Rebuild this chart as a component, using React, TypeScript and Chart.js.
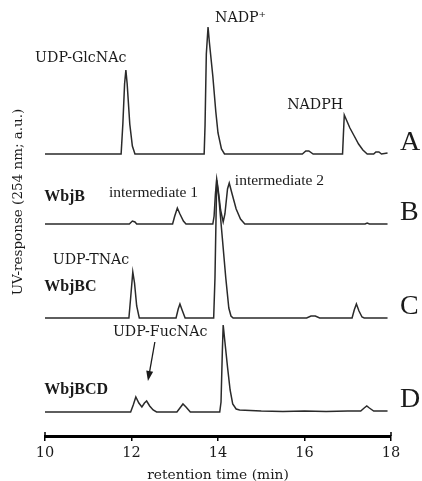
import React, { useEffect, useRef } from "react";
import { Chart, registerables } from "chart.js";

Chart.register(...registerables);

// Retention time axis (min)
const timeTicks = [10, 12, 14, 16, 18];

// Chromatogram traces: [retention time (min), UV response (a.u.)]
const traceA: [number, number][] = [
  [10.0, 0], [11.76, 0], [11.8, 30], [11.84, 70], [11.87, 84], [11.9, 70], [11.96, 30], [12.02, 8], [12.08, 0],
  [13.68, 0], [13.7, 28], [13.73, 100], [13.77, 127], [13.8, 112], [13.88, 78], [13.95, 42], [14.0, 21], [14.08, 5], [14.15, 0],
  [15.95, 0], [16.03, 3], [16.1, 3], [16.2, 0],
  [16.88, 0], [16.9, 20], [16.92, 39], [16.98, 33], [17.05, 26], [17.15, 18], [17.25, 10], [17.35, 4], [17.45, 0],
  [17.6, 0], [17.65, 2], [17.72, 2], [17.78, 0], [17.92, 1],
];

const traceB: [number, number][] = [
  [10.0, 0], [11.95, 0], [12.02, 3], [12.08, 2], [12.12, 0],
  [12.95, 0], [13.0, 8], [13.06, 16], [13.12, 10], [13.2, 3], [13.26, 0],
  [13.88, 0], [13.91, 8], [13.94, 30], [13.97, 45], [14.0, 36], [14.06, 14], [14.12, 2],
  [14.16, 10], [14.22, 35], [14.26, 41], [14.32, 31], [14.42, 15], [14.52, 5], [14.62, 0],
  [17.4, 0], [17.45, 1], [17.5, 0], [17.92, 0],
];

const traceC: [number, number][] = [
  [10.0, 0], [11.94, 0], [11.98, 20], [12.03, 46], [12.07, 35], [12.12, 12], [12.18, 0],
  [13.03, 0], [13.08, 9], [13.12, 14], [13.17, 8], [13.24, 0],
  [13.9, 0], [13.93, 40], [13.97, 138], [14.02, 120], [14.1, 80], [14.18, 40], [14.25, 10], [14.3, 2], [14.35, 0],
  [16.05, 0], [16.15, 2], [16.25, 2], [16.35, 0],
  [17.1, 0], [17.15, 8], [17.2, 14], [17.26, 7], [17.33, 1], [17.38, 0], [17.92, 0],
];

const traceD: [number, number][] = [
  [10.0, 0], [11.98, 0], [12.04, 7], [12.1, 15], [12.17, 9], [12.24, 5], [12.3, 9], [12.35, 11], [12.42, 6], [12.5, 2], [12.58, 0],
  [13.05, 0], [13.12, 4], [13.19, 8], [13.26, 5], [13.36, 0],
  [14.04, 0], [14.07, 10], [14.1, 60], [14.12, 87], [14.16, 70], [14.22, 45], [14.28, 22], [14.34, 8], [14.42, 3], [14.5, 2],
  [15.0, 1], [15.5, 0.5], [16.0, 1], [16.5, 0.5], [17.0, 1],
  [17.3, 1], [17.38, 4], [17.44, 6], [17.5, 4], [17.6, 1], [17.92, 1],
];

const traces = [traceA, traceB, traceC, traceD];
const traceNames = ["A", "B", "C", "D"];
// Vertical stacking offset of each trace's baseline
const traceOffsets = [282, 212, 118, 24];

// Annotation texts anchored at [time, response]
const peakLabels: { text: string; at: [number, number] }[] = [
  { text: "UDP-GlcNAc", at: [9.77, 378] },
  { text: "NADP\u207A", at: [13.93, 418] },
  { text: "NADPH", at: [15.6, 331] },
  { text: "UDP-TNAc", at: [10.18, 176] },
  { text: "UDP-FucNAc", at: [11.57, 104] },
];
const intermediateLabels: { text: string; at: [number, number] }[] = [
  { text: "intermediate 1", at: [11.48, 243] },
  { text: "intermediate 2", at: [14.39, 255] },
];
const enzymeLabels: { text: string; at: [number, number] }[] = [
  { text: "WbjB", at: [9.98, 239] },
  { text: "WbjBC", at: [9.98, 149] },
  { text: "WbjBCD", at: [9.98, 46] },
];
const traceLetterPos: [number, number][] = [
  [18.21, 293], [18.21, 223], [18.21, 129], [18.21, 36],
];
const arrowFromTo: [[number, number], [number, number]] = [[12.54, 94], [12.38, 55]];

const yTitle = "UV-response (254 nm; a.u.)";
const xTitle = "retention time (min)";

const SERIF = "'DejaVu Serif', serif";
const TIMES = "'Liberation Serif', 'Times New Roman', serif";

const annotationPlugin = {
  id: "chromAnnotations",
  afterDraw(chart: any) {
    const { ctx, scales, chartArea } = chart;
    const xs = scales.x;
    const ys = scales.y;
    const px = (t: number) => xs.getPixelForValue(t);
    const py = (v: number) => ys.getPixelForValue(v);
    ctx.save();
    ctx.fillStyle = "#1a1a1a";
    ctx.textBaseline = "middle";
    ctx.textAlign = "left";

    ctx.font = `14.2px ${SERIF}`;
    peakLabels.forEach((l) => ctx.fillText(l.text, px(l.at[0]), py(l.at[1])));

    ctx.font = `15.5px ${TIMES}`;
    intermediateLabels.forEach((l) => ctx.fillText(l.text, px(l.at[0]), py(l.at[1])));

    ctx.font = `bold 16px ${TIMES}`;
    enzymeLabels.forEach((l) => ctx.fillText(l.text, px(l.at[0]), py(l.at[1])));

    ctx.font = `28px ${TIMES}`;
    traceNames.forEach((n, i) => ctx.fillText(n, px(traceLetterPos[i][0]), py(traceLetterPos[i][1])));

    // arrow pointing to UDP-FucNAc
    const [a, b] = arrowFromTo;
    const x0 = px(a[0]), y0 = py(a[1]), x1 = px(b[0]), y1 = py(b[1]);
    const ang = Math.atan2(y1 - y0, x1 - x0);
    ctx.strokeStyle = "#1a1a1a";
    ctx.lineWidth = 1.3;
    ctx.beginPath();
    ctx.moveTo(x0, y0);
    ctx.lineTo(x1 - 6 * Math.cos(ang), y1 - 6 * Math.sin(ang));
    ctx.stroke();
    ctx.beginPath();
    ctx.moveTo(x1, y1);
    ctx.lineTo(x1 - 10 * Math.cos(ang) + 3.5 * Math.sin(ang), y1 - 10 * Math.sin(ang) - 3.5 * Math.cos(ang));
    ctx.lineTo(x1 - 10 * Math.cos(ang) - 3.5 * Math.sin(ang), y1 - 10 * Math.sin(ang) + 3.5 * Math.cos(ang));
    ctx.closePath();
    ctx.fill();

    // end caps of the time axis
    ctx.lineWidth = 1.5;
    ctx.strokeStyle = "#000";
    [timeTicks[0], timeTicks[timeTicks.length - 1]].forEach((t) => {
      ctx.beginPath();
      ctx.moveTo(px(t), chartArea.bottom - 4);
      ctx.lineTo(px(t), chartArea.bottom);
      ctx.stroke();
    });

    // rotated response title
    ctx.font = `13.5px ${SERIF}`;
    ctx.textAlign = "center";
    ctx.translate(18, 202);
    ctx.rotate(-Math.PI / 2);
    ctx.fillText(yTitle, 0, 0);
    ctx.restore();
  },
};

export default function App() {
  const canvasRef = useRef<HTMLCanvasElement | null>(null);

  useEffect(() => {
    if (!canvasRef.current) return;
    const chart = new Chart(canvasRef.current, {
      type: "line",
      data: {
        datasets: traces.map((tr, i) => ({
          label: traceNames[i],
          data: tr.map(([t, v]) => ({ x: t, y: v + traceOffsets[i] })),
          borderColor: "#2a2a2a",
          borderWidth: 1.5,
          pointRadius: 0,
          tension: 0,
          fill: false,
        })),
      },
      options: {
        animation: false,
        responsive: false,
        layout: { padding: { left: 45, right: 31, top: 10, bottom: 0 } },
        plugins: { legend: { display: false }, tooltip: { enabled: false } },
        scales: {
          x: {
            type: "linear",
            min: 10,
            max: 18,
            afterFit: (scale: any) => {
              scale.height = 45;
            },
            afterBuildTicks: (scale: any) => {
              scale.ticks = timeTicks.map((v) => ({ value: v }));
            },
            border: { display: true, color: "#000", width: 3 },
            grid: { drawOnChartArea: false, drawTicks: true, tickLength: 5, color: "#000", lineWidth: 1.5 },
            ticks: { color: "#1a1a1a", font: { family: SERIF, size: 14.5 }, padding: 4, maxRotation: 0 },
            title: {
              display: true,
              text: xTitle,
              color: "#1a1a1a",
              font: { family: SERIF, size: 13.8 },
              padding: { top: 0, bottom: -3 },
            },
          },
          y: { display: false, min: 0, max: 426 },
        },
      },
      plugins: [annotationPlugin],
    });
    return () => chart.destroy();
  }, []);

  return (
    <div style={{ position: "fixed", left: 0, top: 0, width: 422, height: 481, background: "#fff" }}>
      <canvas ref={canvasRef} width={422} height={481} />
    </div>
  );
}
